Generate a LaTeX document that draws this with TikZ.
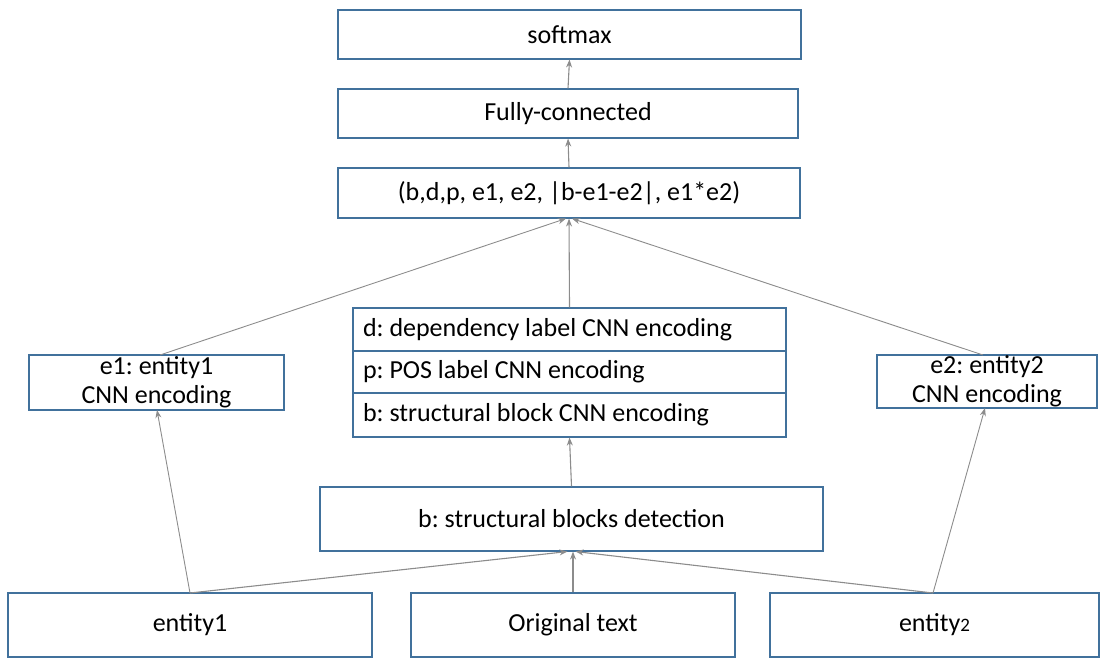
\documentclass[tikz,border=0pt]{standalone}
\usepackage{fontspec}
\setmainfont{Carlito}
\usetikzlibrary{arrows.meta}
\definecolor{boxc}{HTML}{41719C}
\definecolor{arrc}{HTML}{8C8C8C}
\frenchspacing
\begin{document}
\begin{tikzpicture}[x=1pt,y=-1pt,
  box/.style={draw=boxc,line width=1.1pt,inner sep=0pt,font=\fontsize{26}{32}\selectfont\frenchspacing,text=black},
  stackrow/.style={box,minimum width=433pt,text width=413pt,align=flush left},
  arr/.style={draw=arrc,line width=1.1pt,-{Stealth[length=8pt,width=6pt]}},
  thin/.style={draw=arrc,line width=0.9pt,-{Stealth[length=8pt,width=6pt]}}]
\useasboundingbox (0,0) rectangle (1107,669);
% top column
\node[box,minimum width=463pt,minimum height=49pt] (soft) at (569.5,34.5) {softmax};
\node[box,minimum width=460pt,minimum height=49pt] (fc) at (568,113.5) {Fully-connected};
\node[box,minimum width=462pt,minimum height=50pt] (tup) at (569,193) {(b,d,p, e1, e2, |b-e1-e2|, e1*e2)};
% stack
\node[stackrow,minimum height=43pt] (dd) at (569.5,329.5) {d: dependency label CNN encoding};
\node[stackrow,minimum height=42pt] (pp) at (569.5,372) {p: POS label CNN encoding};
\node[stackrow,minimum height=44pt] (bb) at (569.5,415) {b: structural block CNN encoding};
% entity encodings
\node[box,minimum width=255pt,minimum height=55pt,align=center] (e1) at (156.5,382.5) {e1: entity1\\[-3pt]CNN encoding};
\node[box,minimum width=220pt,minimum height=53pt,align=center] (e2) at (987,381.5) {e2: entity2\\[-3pt]CNN encoding};
% detection
\node[box,minimum width=503pt,minimum height=64pt] (det) at (571.5,519) {b: structural blocks detection};
% bottom row
\node[box,minimum width=364pt,minimum height=64pt] (ent1) at (190,625) {entity1};
\node[box,minimum width=324pt,minimum height=64pt] (orig) at (573,625) {Original text};
\node[box,minimum width=329pt,minimum height=64pt] (ent2) at (934.5,625) {entity{\fontsize{19}{20}\selectfont 2}};
% coordinates
\coordinate (ent1t) at (190,593);
\coordinate (ent2t) at (933,593);
\coordinate (e1t) at (160,355);
\coordinate (e2t) at (983,355);
\coordinate (e1b) at (157,410);
\coordinate (e2b) at (985,408);
% connectors
\draw[arr] (fc.north) -- (soft.south);
\draw[arr] (tup.north) -- (fc.south);
\draw[arr] (dd.north) -- (tup.south);
\draw[thin] (e1t) -- ([xshift=-3pt]tup.south);
\draw[thin] (e2t) -- ([xshift=3pt]tup.south);
\draw[arr] (det.north) -- (bb.south);
\draw[thin] (ent1t) -- (e1b);
\draw[thin] (ent2t) -- (e2b);
\draw[arr] (ent1t) -- ([xshift=-4pt]det.south);
\draw[arr] (orig.north) -- ([xshift=1.5pt]det.south);
\draw[arr] (ent2t) -- ([xshift=4pt]det.south);
\end{tikzpicture}
\end{document}
